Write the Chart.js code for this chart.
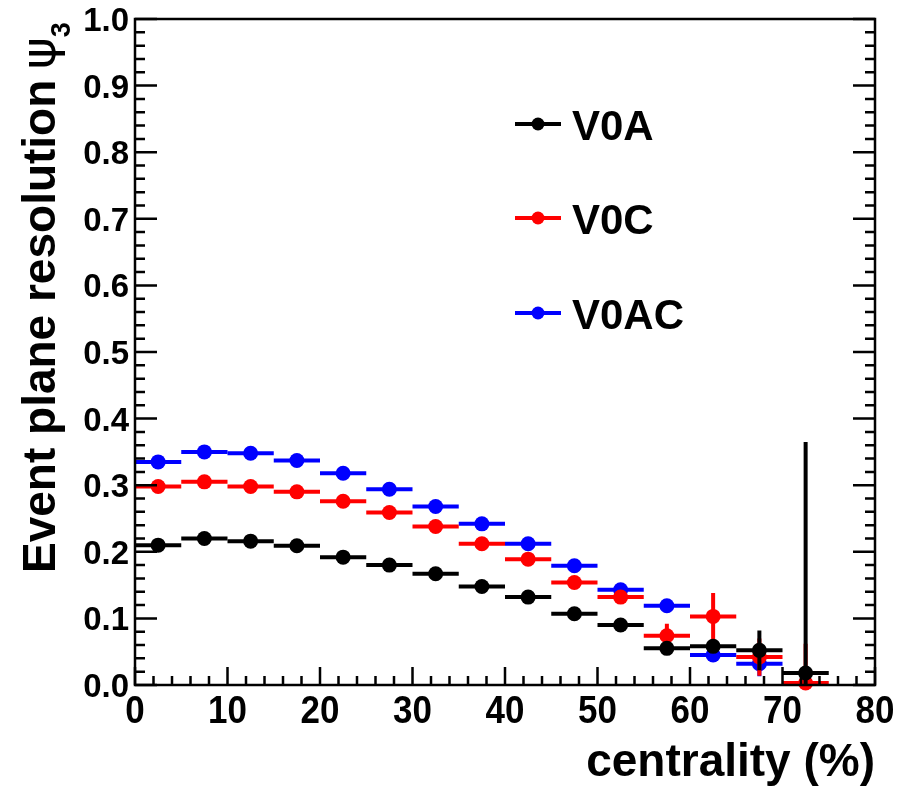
<!DOCTYPE html>
<html>
<head>
<meta charset="utf-8">
<script src="https://cdn.jsdelivr.net/npm/chart.js@4.4.1/dist/chart.umd.min.js"></script>
<style>
  html, body { margin: 0; padding: 0; background: #fff; }
  #wrap { width: 913px; height: 787px; }
</style>
</head>
<body>
<div id="wrap"><canvas id="chart" width="913" height="787"></canvas></div>
<script>
// centrality bin centres (%), each bin is 5% wide
const centrality = [2.5, 7.5, 12.5, 17.5, 22.5, 27.5, 32.5, 37.5, 42.5, 47.5, 52.5, 57.5, 62.5, 67.5, 72.5];
const binWidth = 5;

const v0a = [0.210, 0.220, 0.216, 0.209, 0.192, 0.180, 0.167, 0.148, 0.132, 0.107, 0.090, 0.055, 0.058, 0.052, 0.018];
const v0aErr = [0.002, 0.002, 0.002, 0.002, 0.002, 0.002, 0.002, 0.003, 0.003, 0.004, 0.005, 0.008, 0.010, 0.030, 0.347];

const v0c = [0.298, 0.305, 0.298, 0.290, 0.276, 0.259, 0.238, 0.212, 0.189, 0.154, 0.132, 0.074, 0.103, 0.042, 0.003];
const v0cErr = [0.002, 0.002, 0.002, 0.002, 0.002, 0.002, 0.003, 0.003, 0.004, 0.005, 0.005, 0.018, 0.035, 0.028, 0.059];

const v0ac = [0.335, 0.350, 0.348, 0.337, 0.318, 0.294, 0.268, 0.242, 0.212, 0.179, 0.143, 0.119, 0.045, 0.032, null];
const v0acErr = [0.002, 0.002, 0.002, 0.002, 0.002, 0.002, 0.002, 0.003, 0.003, 0.004, 0.005, 0.005, 0.008, 0.019, null];

const seriesNames = ["V0A", "V0C", "V0AC"];
const seriesColors = ["#000000", "#ff0000", "#0000ff"];
const seriesValues = [v0a, v0c, v0ac];
const seriesErrors = [v0aErr, v0cErr, v0acErr];

const xTitle = "centrality (%)";
const yTitle = "Event plane resolution ";

const FONT = '"Liberation Sans", Arial, Helvetica, sans-serif';

function points(values) {
  return centrality.map((c, i) => (values[i] === null ? null : { x: c, y: values[i] })).filter(p => p);
}

// error bars (bin width horizontally, stat. error vertically), drawn under each set of markers
const errorBars = {
  id: "errorBars",
  beforeDatasetDraw(chart, args) {
    const { ctx, chartArea } = chart;
    const xs = chart.scales.x;
    const ys = chart.scales.y;
    const vals = seriesValues[args.index];
    const errs = seriesErrors[args.index];
    ctx.save();
    ctx.beginPath();
    ctx.rect(chartArea.left, chartArea.top, chartArea.right - chartArea.left, chartArea.bottom - chartArea.top);
    ctx.clip();
    ctx.strokeStyle = seriesColors[args.index];
    ctx.lineWidth = 4;
    ctx.lineCap = "butt";
    centrality.forEach((c, i) => {
      if (vals[i] === null) return;
      const x = xs.getPixelForValue(c);
      const y = ys.getPixelForValue(vals[i]);
      ctx.beginPath();
      ctx.moveTo(xs.getPixelForValue(c - binWidth / 2), y);
      ctx.lineTo(xs.getPixelForValue(c + binWidth / 2), y);
      ctx.moveTo(x, ys.getPixelForValue(vals[i] + errs[i]));
      ctx.lineTo(x, ys.getPixelForValue(vals[i] - errs[i]));
      ctx.stroke();
    });
    ctx.restore();
  }
};

// ROOT-like frame, inward ticks, labels, titles and legend
const rootFrame = {
  id: "rootFrame",
  afterDraw(chart) {
    const { ctx, chartArea: a } = chart;
    const xs = chart.scales.x;
    const ys = chart.scales.y;
    ctx.save();
    ctx.strokeStyle = "#000";
    ctx.fillStyle = "#000";
    ctx.lineWidth = 2.5;
    ctx.strokeRect(a.left, a.top, a.right - a.left, a.bottom - a.top);

    // x ticks: major every 10, minor every 2 (bottom only)
    ctx.beginPath();
    for (let v = xs.min; v <= xs.max + 1e-9; v += 2) {
      const px = xs.getPixelForValue(v);
      const len = Math.abs(v % 10) < 1e-9 ? 18 : 9;
      ctx.moveTo(px, a.bottom);
      ctx.lineTo(px, a.bottom - len);
    }
    // y ticks: major every 0.1, minor every 0.02 (left and right)
    for (let k = 0; k <= 50; k++) {
      const v = k * 0.02;
      const py = ys.getPixelForValue(v);
      const len = k % 5 === 0 ? 22 : 10;
      ctx.moveTo(a.left, py);
      ctx.lineTo(a.left + len, py);
      ctx.moveTo(a.right, py);
      ctx.lineTo(a.right - len, py);
    }
    ctx.stroke();

    // x tick labels
    ctx.font = "bold 38px " + FONT;
    ctx.textAlign = "center";
    ctx.textBaseline = "alphabetic";
    xs.ticks.forEach(t => {
      ctx.save();
      ctx.translate(xs.getPixelForValue(t.value), a.bottom + 38);
      ctx.scale(0.92, 1);
      ctx.fillText(String(t.value), 0, 0);
      ctx.restore();
    });

    // y tick labels
    ctx.font = "bold 33px " + FONT;
    ctx.textAlign = "right";
    ys.ticks.forEach(t => {
      ctx.fillText(t.value.toFixed(1), a.left - 6, ys.getPixelForValue(t.value) + 12);
    });

    // x title
    ctx.font = "bold 46px " + FONT;
    ctx.textAlign = "right";
    ctx.fillText(xTitle, a.right, 776);

    // y title, rotated, with psi_3
    ctx.save();
    ctx.translate(55, 573);
    ctx.rotate(-Math.PI / 2);
    ctx.textAlign = "left";
    ctx.font = "bold 46px " + FONT;
    const w = ctx.measureText(yTitle).width;
    ctx.fillText(yTitle, 0, 0);
    ctx.font = "48px 'DejaVu Sans', sans-serif";
    ctx.fillText("\u03C8", w - 2, 0);
    const wp = ctx.measureText("\u03C8").width;
    ctx.font = "bold 27px " + FONT;
    ctx.fillText("3", w + wp - 2, 15);
    ctx.restore();

    // legend
    const legendY = [124, 218, 313];
    seriesNames.forEach((name, i) => {
      const y = legendY[i];
      ctx.strokeStyle = seriesColors[i];
      ctx.fillStyle = seriesColors[i];
      ctx.lineWidth = 4;
      ctx.beginPath();
      ctx.moveTo(515, y);
      ctx.lineTo(561, y);
      ctx.stroke();
      ctx.beginPath();
      ctx.arc(538, y, 6.5, 0, Math.PI * 2);
      ctx.fill();
      ctx.fillStyle = "#000";
      ctx.font = "bold 42px " + FONT;
      ctx.textAlign = "left";
      ctx.fillText(name, 572, y + 16);
    });
    ctx.restore();
  }
};

new Chart(document.getElementById("chart"), {
  type: "scatter",
  data: {
    datasets: seriesNames.map((name, i) => ({
      label: name,
      data: points(seriesValues[i]),
      backgroundColor: seriesColors[i],
      borderColor: seriesColors[i],
      borderWidth: 0,
      pointRadius: 7.5,
      pointHoverRadius: 7.5,
      showLine: false,
      clip: false,
    })),
  },
  options: {
    responsive: false,
    animation: false,
    devicePixelRatio: 1,
    events: [],
    layout: { padding: { left: 135, right: 38, top: 19, bottom: 102 } },
    plugins: {
      legend: { display: false },
      tooltip: { enabled: false },
    },
    scales: {
      x: {
        type: "linear",
        min: 0,
        max: 80,
        display: false,
        ticks: { stepSize: 10 },
      },
      y: {
        type: "linear",
        min: 0,
        max: 1,
        display: false,
        ticks: { stepSize: 0.1 },
      },
    },
  },
  plugins: [errorBars, rootFrame],
});
</script>
</body>
</html>
